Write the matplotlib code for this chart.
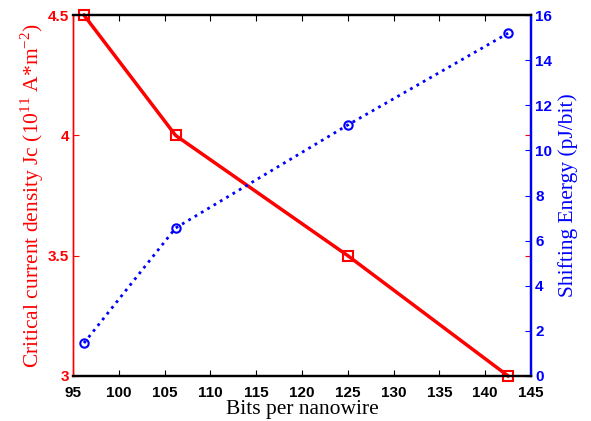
import matplotlib
matplotlib.use("Agg")
import matplotlib.pyplot as plt

plt.rcParams['mathtext.fontset'] = 'custom'
plt.rcParams['mathtext.rm'] = 'Liberation Serif'

bits = [96.2, 106.2, 125, 142.5]
jc = [4.5, 4.0, 3.5, 3.0]
energy = [1.46, 6.56, 11.13, 15.2]

fig = plt.figure(figsize=(5.91, 4.21), dpi=100)
ax = fig.add_axes([0.1235, 0.107, 0.775, 0.857])
ax2 = ax.twinx()

ax.plot(bits, jc, color='red', lw=2.5, marker='s', ms=7, mfc='none', mew=1.5, clip_on=False, zorder=5)
ax2.plot(bits, energy, color='blue', lw=2, ls=':', marker='o', ms=6, mfc='none', mew=1.5, clip_on=False)

ax.set_xlim(95, 145)
ax.set_ylim(3, 4.5)
ax2.set_ylim(0, 16)
ax.set_xticks(range(95, 146, 5))
ax.set_yticks([3, 3.5, 4, 4.5])
ax.set_yticklabels(['3', '3.5', '4', '4.5'])
ax2.set_yticks(range(0, 17, 2))

tickfont = matplotlib.font_manager.FontProperties(family='Liberation Sans', weight='bold', size=11)
for lab in ax.get_xticklabels() + ax.get_yticklabels() + ax2.get_yticklabels():
    lab.set_fontproperties(tickfont)

ax.tick_params(axis='x', direction='in', top=True, length=4, colors='black', pad=7)
ax.tick_params(axis='y', direction='in', right=True, length=4, colors='red', pad=3)
ax2.tick_params(axis='y', direction='in', length=4, colors='blue', pad=3)

for s in ax.spines.values():
    s.set_linewidth(1.6)
for s in ax2.spines.values():
    s.set_linewidth(1.6)
ax.spines['left'].set_color('red')
ax.spines['left'].set_linewidth(1.0)
ax2.spines['left'].set_color('red')
ax2.spines['left'].set_linewidth(1.0)
ax2.spines['right'].set_color('blue')

labfont = dict(family='Liberation Serif', size=15.5)
ax.set_xlabel('Bits per nanowire', labelpad=0, **labfont)
ax.set_ylabel(r'Critical current density Jc (10$^{11}$ A*m$^{-2}$)', color='red', labelpad=1, **labfont)
ax2.set_ylabel('Shifting Energy (pJ/bit)', color='blue', labelpad=4, **labfont)

fig.savefig('out.png', dpi=100)
